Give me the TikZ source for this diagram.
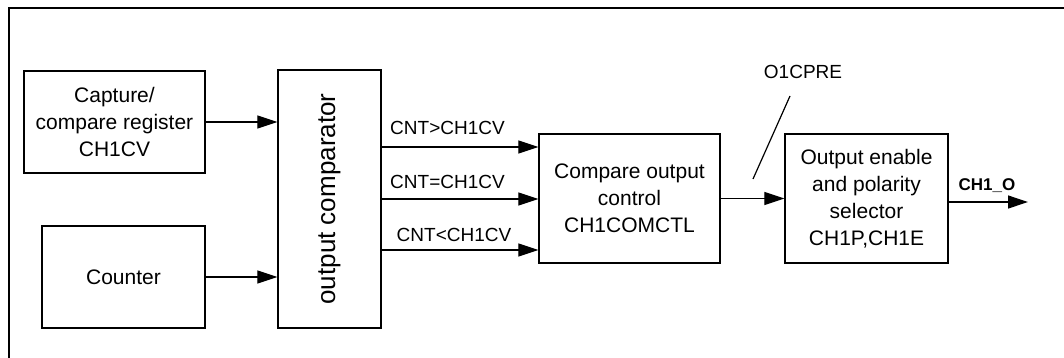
\documentclass[tikz,border=0pt]{standalone}
\usepackage{fontspec}
\setmainfont{Liberation Sans}
\usetikzlibrary{arrows.meta}
\begin{document}
\begin{tikzpicture}[x=0.5pt,y=-0.5pt,
  blk/.style={draw,line width=0.7pt,inner sep=0pt,align=center,font=\fontsize{10.5}{13.5}\selectfont},
  arr/.style={line width=0.6pt,-{Triangle[length=10pt,width=6.5pt]}},
  lbl/.style={inner sep=0pt,font=\fontsize{9.5}{11}\selectfont}]
\useasboundingbox (0,0) rectangle (1064,358);
\draw[line width=0.8pt] (9,358) -- (9,8) -- (1064,8);
\node[blk,minimum width=90.5pt,minimum height=51pt] (cap) at (114.5,122) {Capture/\\compare register\\CH1CV};
\node[blk,minimum width=81.5pt,minimum height=51pt] (cnt) at (123.5,277) {Counter};
\node[blk,minimum width=51.5pt,minimum height=129pt] (comp) at (329.5,199) {};
\node[rotate=90,inner sep=0pt,font=\fontsize{13}{15}\selectfont] (comptxt) at (comp.center) {output comparator};
\node[blk,minimum width=90.5pt,minimum height=64.5pt] (coc) at (629.5,198.5) {Compare output\\control\\CH1COMCTL};
\node[blk,minimum width=81.5pt,minimum height=64.5pt] (oe) at (866.5,198.5) {Output enable\\and polarity\\selector\\CH1P,CH1E};
\draw[arr] (cap.east) -- (cap.east -| comp.west);
\draw[arr] (cnt.east) -- (cnt.east -| comp.west);
\coordinate (o1) at (381,147);
\coordinate (o2) at (381,199);
\coordinate (o3) at (381,250);
\draw[arr] (o1) -- (o1 -| coc.west);
\draw[arr] (o2) -- (o2 -| coc.west);
\draw[arr] (o3) -- (o3 -| coc.west);
\node[lbl] (l1) at (447.5,128) {CNT>CH1CV};
\node[lbl] (l2) at (447.5,182) {CNT=CH1CV};
\node[lbl] (l3) at (454,235) {CNT<CH1CV};
\draw[arr] (coc.east) -- (oe.west);
\coordinate (s1) at (790,96);
\coordinate (s2) at (753,179);
\draw[line width=0.6pt] (s1) -- (s2);
\node[lbl] (pre) at (803,72) {O1CPRE};
\coordinate (ostart) at (948,202);
\coordinate (oend) at (1028,202);
\draw[arr] (ostart) -- (oend);
\node[inner sep=0pt,font=\fontsize{8.5}{10}\selectfont\bfseries] (ch) at (987,186) {CH1\_O};
\end{tikzpicture}
\end{document}
